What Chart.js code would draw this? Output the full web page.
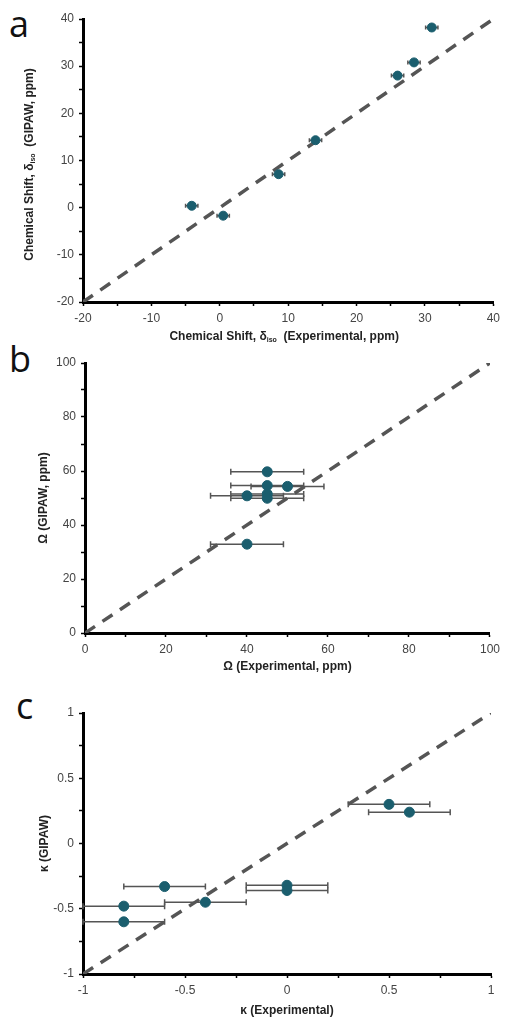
<!DOCTYPE html>
<html><head><meta charset="utf-8">
<script src="https://cdn.jsdelivr.net/npm/chart.js@4.4.1/dist/chart.umd.min.js"></script>
<style>
html,body{margin:0;padding:0;background:#fff;width:505px;height:1019px;overflow:hidden}
canvas{position:absolute;left:0}
.lbl{position:absolute;font-family:"Open Sans",sans-serif;font-size:36px;color:#111;line-height:1}
</style></head><body>
<div class="lbl" style="left:9px;top:6px">a</div>
<div class="lbl" style="left:9px;top:341px">b</div>
<div class="lbl" style="left:16px;top:688px">c</div>
<canvas id="ca" width="505" height="345" style="top:0px"></canvas>
<canvas id="cb" width="505" height="330" style="top:345px"></canvas>
<canvas id="cc" width="505" height="344" style="top:675px"></canvas>
<script>
// ---- Data ----
const isoExperimental = [-4.1, 0.5, 8.6, 14.0, 26.0, 28.4, 31.0];
const isoGipaw        = [0.4, -1.7, 7.1, 14.3, 28.0, 30.8, 38.2];
const isoErr          = [0.9, 0.9, 0.9, 0.9, 0.9, 0.9, 0.9];
const isoTickLabels   = [-20, -10, 0, 10, 20, 30, 40];

const spanExperimental = [45, 45, 50, 40, 45, 45, 40];
const spanGipaw        = [59.7, 54.6, 54.3, 50.8, 51.5, 49.9, 32.9];
const spanErr          = [9, 9, 9, 9, 9, 9, 9];
const spanTickLabels   = [0, 20, 40, 60, 80, 100];

const skewExperimental = [-0.6, -0.8, -0.8, -0.4, 0, 0, 0.5, 0.6];
const skewGipaw        = [-0.33, -0.48, -0.60, -0.45, -0.32, -0.36, 0.30, 0.24];
const skewErr          = [0.2, 0.2, 0.2, 0.2, 0.2, 0.2, 0.2, 0.2];
const skewTickLabels   = [-1, -0.5, 0, 0.5, 1];

const MARK = '#1b5e6e';
const DASH = '#555555';
const FONT = '"Liberation Sans", Arial, sans-serif';

const errPlugin = {
  id: 'errbars',
  beforeDatasetsDraw(chart, args, o) {
    const ds = chart.data.datasets.find(d => d.xErr);
    if (!ds) return;
    const xs = chart.scales.x, ys = chart.scales.y, ctx = chart.ctx;
    const cap = o.cap || 3;
    ctx.save();
    ctx.strokeStyle = '#555';
    ctx.lineWidth = 1.5;
    ds.data.forEach((p, i) => {
      const e = ds.xErr[i];
      const x1 = xs.getPixelForValue(p.x - e), x2 = xs.getPixelForValue(p.x + e);
      const y = ys.getPixelForValue(p.y);
      ctx.beginPath();
      ctx.moveTo(x1, y); ctx.lineTo(x2, y);
      ctx.moveTo(x1, y - cap); ctx.lineTo(x1, y + cap);
      ctx.moveTo(x2, y - cap); ctx.lineTo(x2, y + cap);
      ctx.stroke();
    });
    ctx.restore();
  }
};

function drawRich(ctx, segs, size) {
  const main = 'bold ' + size + 'px ' + FONT;
  const sub = 'bold ' + Math.round(size * 0.62) + 'px ' + FONT;
  let w = 0;
  segs.forEach(s => { ctx.font = s.sub ? sub : main; w += ctx.measureText(s.t).width; });
  let x = -w / 2;
  ctx.textBaseline = 'middle';
  ctx.textAlign = 'left';
  segs.forEach(s => {
    ctx.font = s.sub ? sub : main;
    ctx.fillText(s.t, x, s.sub ? 3 : 0);
    x += ctx.measureText(s.t).width;
  });
}

const titlePlugin = {
  id: 'richTitles',
  afterDraw(chart, args, o) {
    const ctx = chart.ctx, a = chart.chartArea;
    ctx.save();
    ctx.fillStyle = '#222';
    ctx.translate((a.left + a.right) / 2 + (o.xdx || 0), o.xTitleY);
    drawRich(ctx, o.xTitle, 12);
    ctx.restore();
    ctx.save();
    ctx.fillStyle = '#222';
    ctx.translate(o.yTitleX, (a.top + a.bottom) / 2 + (o.ydy || 0));
    ctx.rotate(-Math.PI / 2);
    drawRich(ctx, o.yTitle, 12);
    ctx.restore();
  }
};

function makeChart(id, cfg) {
  const canvas = document.getElementById(id);
  const H = canvas.height;
  const YW = 40, XH = 34;
  const pts = cfg.xs.map((x, i) => ({x: x, y: cfg.ys[i]}));
  const isLabel = v => cfg.labels.some(l => Math.abs(l - v) < 1e-9);
  const axis = (afterFit) => ({
    type: 'linear', min: cfg.min, max: cfg.max,
    ticks: {
      stepSize: cfg.step, autoSkip: false, maxRotation: 0, color: '#444',
      font: {family: FONT, size: 12}, padding: 5,
      callback: v => isLabel(v) ? String(v) : ''
    },
    grid: {drawOnChartArea: false, drawTicks: true, tickLength: 4, tickColor: '#000', tickWidth: 1.5},
    border: {display: true, color: '#000', width: 3},
    afterFit: afterFit
  });
  return new Chart(canvas, {
    type: 'scatter',
    data: {
      datasets: [
        {data: pts, xErr: cfg.errs, backgroundColor: MARK, borderColor: MARK,
         pointRadius: cfg.r, pointHoverRadius: cfg.r, order: 1},
        {type: 'line', data: [{x: cfg.min, y: cfg.min}, {x: cfg.max, y: cfg.max}],
         borderColor: DASH, borderWidth: 3.5, borderDash: [12, 9], pointRadius: 0,
         fill: false, order: 2}
      ]
    },
    options: {
      responsive: false, animation: false, devicePixelRatio: 1,
      layout: {padding: {left: cfg.L - YW, right: 505 - cfg.R, top: cfg.T, bottom: H - cfg.B - XH}},
      plugins: {
        legend: {display: false}, tooltip: {enabled: false},
        errbars: {cap: cfg.cap},
        richTitles: {xTitle: cfg.xTitle, yTitle: cfg.yTitle, xTitleY: cfg.xTitleY, yTitleX: cfg.yTitleX, xdx: cfg.xdx || 0, ydy: cfg.ydy || 0}
      },
      scales: {
        x: axis(s => { s.height = XH; }),
        y: axis(s => { s.width = YW; })
      }
    },
    plugins: [errPlugin, titlePlugin]
  });
}

makeChart('ca', {
  xs: isoExperimental, ys: isoGipaw, errs: isoErr, labels: isoTickLabels,
  min: -20, max: 40, step: 5, r: 4.5, cap: 2,
  L: 83, R: 497, T: 19, B: 302,
  xTitle: [{t: 'Chemical Shift, δ'}, {t: 'iso', sub: true}, {t: '  (Experimental, ppm)'}],
  yTitle: [{t: 'Chemical Shift, δ'}, {t: 'iso', sub: true}, {t: '  (GIPAW, ppm)'}],
  xTitleY: 337, yTitleX: 30, xdx: -4, ydy: 4
});
makeChart('cb', {
  xs: spanExperimental, ys: spanGipaw, errs: spanErr, labels: spanTickLabels,
  min: 0, max: 100, step: 10, r: 5, cap: 3,
  L: 85, R: 493, T: 18, B: 288,
  xTitle: [{t: 'Ω (Experimental, ppm)'}],
  yTitle: [{t: 'Ω (GIPAW, ppm)'}],
  xTitleY: 322, yTitleX: 44
});
makeChart('cc', {
  xs: skewExperimental, ys: skewGipaw, errs: skewErr, labels: skewTickLabels,
  min: -1, max: 1, step: 0.25, r: 5, cap: 3,
  L: 83, R: 491, T: 38, B: 299,
  xTitle: [{t: 'κ (Experimental)'}],
  yTitle: [{t: 'κ (GIPAW)'}],
  xTitleY: 336, yTitleX: 45
});
</script>
</body></html>
